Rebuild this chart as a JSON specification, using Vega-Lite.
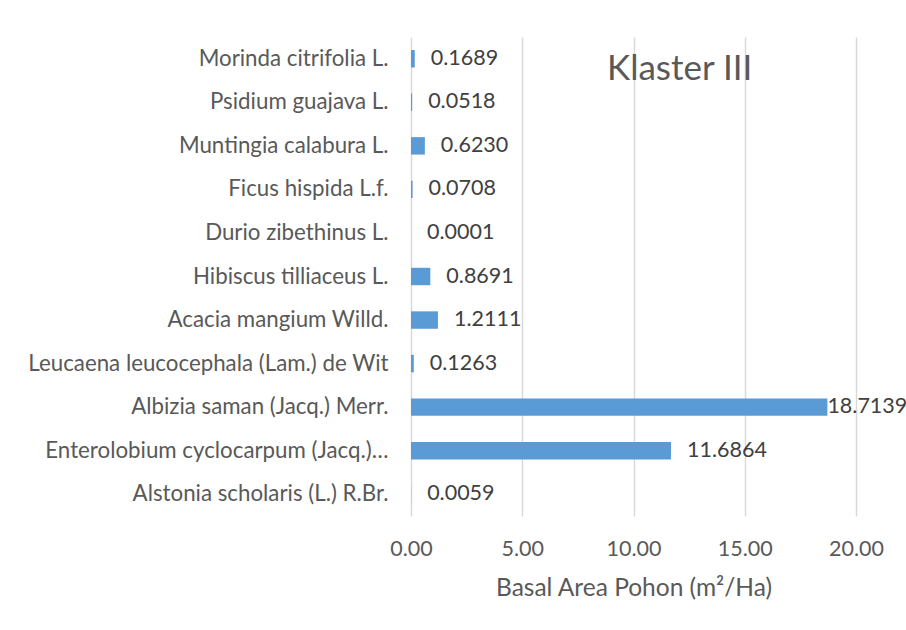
{
  "$schema": "https://vega.github.io/schema/vega-lite/v6.json",
  "width": 445,
  "height": 479,
  "autosize": {"type": "none"},
  "padding": {"left": 411, "top": 37, "right": 50, "bottom": 114},
  "background": "white",
  "config": {"view": {"stroke": null}, "font": "Lato"},
  "title": {
    "text": "Klaster III",
    "anchor": "start",
    "frame": "group",
    "dx": 196,
    "dy": 35,
    "offset": -43,
    "baseline": "alphabetic",
    "fontSize": 35,
    "font": "Lato",
    "fontWeight": "normal",
    "color": "#595959"
  },
  "data": {
    "values": [
      {"species": "Morinda citrifolia L.", "value": 0.1689},
      {"species": "Psidium guajava L.", "value": 0.0518},
      {"species": "Muntingia calabura L.", "value": 0.6230},
      {"species": "Ficus hispida L.f.", "value": 0.0708},
      {"species": "Durio zibethinus L.", "value": 0.0001},
      {"species": "Hibiscus tilliaceus L.", "value": 0.8691},
      {"species": "Acacia mangium Willd.", "value": 1.2111},
      {"species": "Leucaena leucocephala (Lam.) de Wit", "value": 0.1263},
      {"species": "Albizia saman (Jacq.) Merr.", "value": 18.7139},
      {"species": "Enterolobium cyclocarpum (Jacq.)…", "value": 11.6864},
      {"species": "Alstonia scholaris (L.) R.Br.", "value": 0.0059}
    ]
  },
  "encoding": {
    "y": {
      "field": "species",
      "type": "nominal",
      "sort": null,
      "scale": {"paddingInner": 0.6, "paddingOuter": 0.3},
      "axis": {
        "title": null,
        "ticks": false,
        "domain": false,
        "labelPadding": 23,
        "labelFontSize": 22.3,
        "labelFont": "Lato",
        "labelColor": "#595959",
        "labelLimit": 500
      }
    }
  },
  "layer": [
    {
      "mark": {"type": "bar", "color": "#5b9bd5"},
      "encoding": {
        "x": {
          "field": "value",
          "type": "quantitative",
          "scale": {"domain": [0, 20], "nice": false, "zero": true},
          "axis": {
            "values": [0, 5, 10, 15, 20],
            "format": ".2f",
            "grid": true,
            "gridColor": "#d9d9d9",
            "gridWidth": 1.5,
            "domain": false,
            "ticks": false,
            "labelFlush": false,
            "labelPadding": 22,
            "labelFontSize": 21.5,
            "labelFont": "Lato",
            "labelColor": "#595959",
            "title": "Basal Area Pohon (m²/Ha)",
            "titleFontSize": 24.5,
            "titleFont": "Lato",
            "titleFontWeight": "normal",
            "titleColor": "#595959",
            "titlePadding": 17
          }
        }
      }
    },
    {
      "transform": [{"filter": "datum.value < 15"}],
      "mark": {"type": "text", "align": "left", "baseline": "middle", "dx": 16, "fontSize": 21.5, "font": "Lato", "color": "#404040"},
      "encoding": {
        "x": {"field": "value", "type": "quantitative"},
        "text": {"field": "value", "type": "quantitative", "format": ".4f"}
      }
    },
    {
      "transform": [{"filter": "datum.value >= 15"}],
      "mark": {"type": "text", "align": "left", "baseline": "middle", "dx": 0, "fontSize": 21.5, "font": "Lato", "color": "#404040"},
      "encoding": {
        "x": {"field": "value", "type": "quantitative"},
        "text": {"field": "value", "type": "quantitative", "format": ".4f"}
      }
    }
  ]
}
